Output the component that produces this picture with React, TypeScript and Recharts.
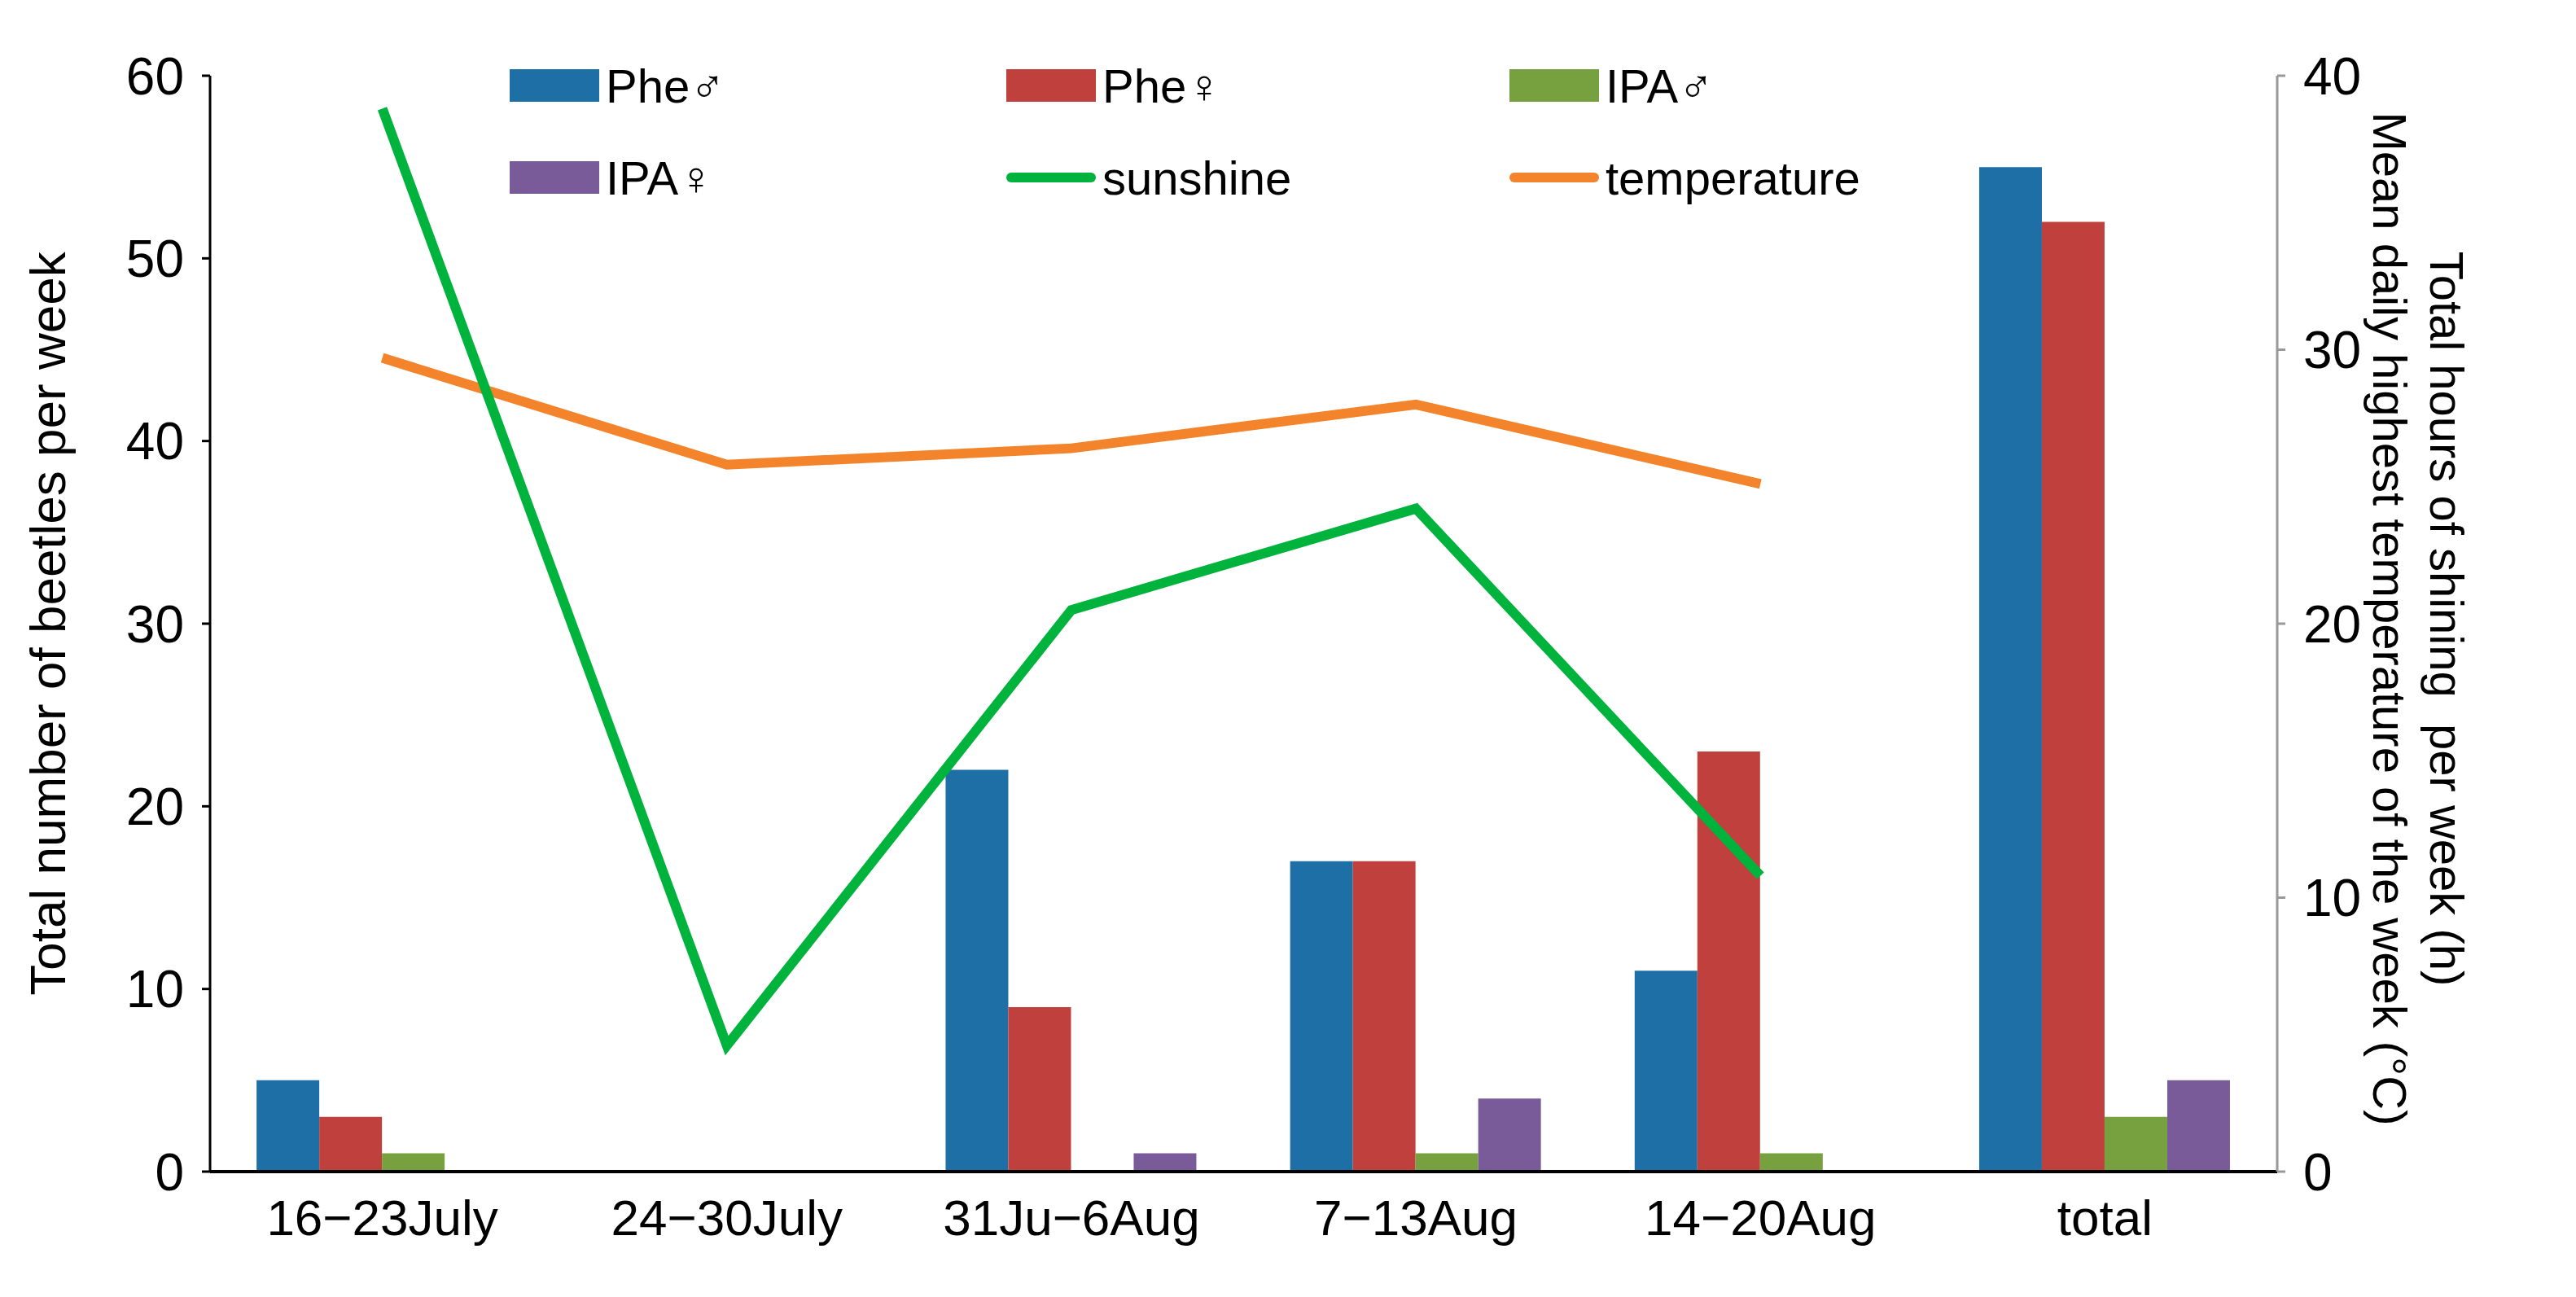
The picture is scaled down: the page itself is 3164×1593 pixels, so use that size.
import React from "react";
import {
  ComposedChart,
  Bar,
  Line,
  XAxis,
  YAxis,
} from "recharts";

const categories = ["16\u221223July", "24\u221230July", "31Ju\u22126Aug", "7\u221213Aug", "14\u221220Aug", "total"];
const pheMale = [5, 0, 22, 17, 11, 55];
const pheFemale = [3, 0, 9, 17, 23, 52];
const ipaMale = [1, 0, 0, 1, 1, 3];
const ipaFemale = [0, 0, 1, 4, 0, 5];
const sunshine = [38.8, 4.6, 20.5, 24.2, 10.8, null];
const temperature = [29.7, 25.8, 26.4, 28.0, 25.1, null];
const leftTicks = [0, 10, 20, 30, 40, 50, 60];
const rightTicks = [0, 10, 20, 30, 40];

const data = categories.map((c, i) => ({
  cat: c,
  pheM: pheMale[i],
  pheF: pheFemale[i],
  ipaM: ipaMale[i],
  ipaF: ipaFemale[i],
  sun: sunshine[i],
  temp: temperature[i],
}));

const C = {
  pheM: "#1f6fa7",
  pheF: "#c0403e",
  ipaM: "#77a13e",
  ipaF: "#7a5b99",
  sun: "#00b33c",
  temp: "#f4842c",
};

const legendItems = [
  { label: "Phe\u2642", color: C.pheM, line: false, x: 626, y: 105 },
  { label: "Phe\u2640", color: C.pheF, line: false, x: 1236, y: 105 },
  { label: "IPA\u2642", color: C.ipaM, line: false, x: 1854, y: 105 },
  { label: "IPA\u2640", color: C.ipaF, line: false, x: 626, y: 218 },
  { label: "sunshine", color: C.sun, line: true, x: 1236, y: 218 },
  { label: "temperature", color: C.temp, line: true, x: 1854, y: 218 },
];

const FONT = "'Liberation Sans', Arial, sans-serif";
const tick = { fontSize: 64, fill: "#000", fontFamily: FONT };

export default function App() {
  return (
    <div style={{ position: "absolute", left: 0, top: 0, width: 3164, height: 1593, background: "#fff", fontFamily: FONT }}>
      <ComposedChart
        width={3164}
        height={1593}
        data={data}
        margin={{ top: 93, right: 0, left: 0, bottom: 0 }}
        barCategoryGap="13.5%"
        barGap={0}
      >
        <XAxis
          dataKey="cat"
          height={154}
          tick={{ ...tick, fontSize: 62 }}
          tickLine={false}
          axisLine={{ stroke: "#000", strokeWidth: 4 }}
          tickMargin={28}
        />
        <YAxis
          yAxisId="l"
          width={258}
          domain={[0, 60]}
          ticks={leftTicks}
          tick={tick}
          tickLine={{ stroke: "#000", strokeWidth: 3 }}
          tickSize={10}
          axisLine={{ stroke: "#000", strokeWidth: 3 }}
          tickMargin={22}
        />
        <YAxis
          yAxisId="r"
          orientation="right"
          width={367}
          domain={[0, 40]}
          ticks={rightTicks}
          tick={tick}
          tickLine={{ stroke: "#999", strokeWidth: 3 }}
          tickSize={10}
          axisLine={{ stroke: "#999", strokeWidth: 3 }}
          tickMargin={22}
        />
        <Bar yAxisId="l" dataKey="pheM" fill={C.pheM} isAnimationActive={false} />
        <Bar yAxisId="l" dataKey="pheF" fill={C.pheF} isAnimationActive={false} />
        <Bar yAxisId="l" dataKey="ipaM" fill={C.ipaM} isAnimationActive={false} />
        <Bar yAxisId="l" dataKey="ipaF" fill={C.ipaF} isAnimationActive={false} />
        <Line yAxisId="r" dataKey="temp" stroke={C.temp} strokeWidth={12} dot={false} type="linear" isAnimationActive={false} />
        <Line yAxisId="r" dataKey="sun" stroke={C.sun} strokeWidth={12} dot={false} type="linear" isAnimationActive={false} />
      </ComposedChart>

      {legendItems.map((it) => (
        <div key={it.label} style={{ position: "absolute", left: it.x, top: it.y - 36, display: "flex", alignItems: "center", height: 72 }}>
          <div style={{ width: 110, height: it.line ? 12 : 40, background: it.color, borderRadius: it.line ? 6 : 0, marginRight: 8 }} />
          <span style={{ fontSize: 58, color: "#000" }}>{it.label}</span>
        </div>
      ))}

      <div style={{ position: "absolute", left: 58, top: 766, transform: "translate(-50%, -50%) rotate(-90deg)", whiteSpace: "nowrap", fontSize: 62 }}>
        Total number of beetles per week
      </div>
      <div style={{ position: "absolute", left: 3005, top: 760, transform: "translate(-50%, -50%) rotate(90deg)", whiteSpace: "nowrap", fontSize: 58 }}>
        Total hours of shining&nbsp; per week (h)
      </div>
      <div style={{ position: "absolute", left: 2935, top: 760, transform: "translate(-50%, -50%) rotate(90deg)", whiteSpace: "nowrap", fontSize: 58 }}>
        Mean daily highest temperature of the week (°C)
      </div>
    </div>
  );
}
